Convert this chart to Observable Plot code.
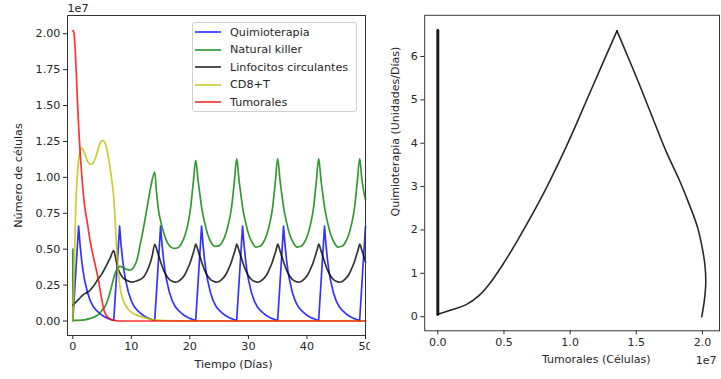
<!DOCTYPE html>
<html><head><meta charset="utf-8">
<script src="https://cdn.jsdelivr.net/npm/d3@7"></script>
<script src="https://cdn.jsdelivr.net/npm/@observablehq/plot@0.6"></script>
<style>
html,body{margin:0;padding:0;background:#fff;}
body{width:721px;height:379px;overflow:hidden;position:relative;font-family:"DejaVu Sans",sans-serif;}
#left{position:absolute;left:0;top:0;}
#right{position:absolute;left:370px;top:0;}
#legend{position:absolute;left:192px;top:22px;width:165px;height:90px;border:1px solid #d0d0d0;border-radius:3px;background:rgba(255,255,255,0.8);box-sizing:border-box;}
.row{position:absolute;left:0;height:14px;display:flex;align-items:center;font-size:11.2px;color:#262626;white-space:nowrap;}
.row svg{margin-left:2px;margin-right:9px;}
</style></head><body>
<div id="left"></div><div id="right"></div><div id="legend"></div>
<script>
// ---- Data (left panel, values in units of 1e7) ----
const nombres = ["Quimioterapia", "Natural killer", "Linfocitos circulantes", "CD8+T", "Tumorales"];
const colores = ["#0000ff", "#008000", "#000000", "#bfbf00", "#ff0000"];
const xTicksIzq = [0, 10, 20, 30, 40, 50];
const yTicksIzq = [0, 0.25, 0.5, 0.75, 1.0, 1.25, 1.5, 1.75, 2.0];
const xTicksDer = [0, 0.5, 1.0, 1.5, 2.0];
const yTicksDer = [0, 1, 2, 3, 4, 5, 6];

const quimio = [
[0,0],[1,0.66],[1.25,0.53],[1.5,0.43],[1.75,0.35],[2,0.29],[2.5,0.2],[3,0.14],[3.5,0.1],[4,0.075],[4.5,0.056],[5,0.04],[5.5,0.028],[6,0.018],[6.5,0.01],[7,0.005],
[8,0.66],[8.25,0.53],[8.5,0.43],[8.75,0.35],[9,0.29],[9.5,0.2],[10,0.14],[10.5,0.1],[11,0.075],[11.5,0.056],[12,0.04],[12.5,0.028],[13,0.018],[13.5,0.01],[14,0.005],
[15,0.66],[15.25,0.53],[15.5,0.43],[15.75,0.35],[16,0.29],[16.5,0.2],[17,0.14],[17.5,0.1],[18,0.075],[18.5,0.056],[19,0.04],[19.5,0.028],[20,0.018],[20.5,0.01],[21,0.005],
[22,0.66],[22.25,0.53],[22.5,0.43],[22.75,0.35],[23,0.29],[23.5,0.2],[24,0.14],[24.5,0.1],[25,0.075],[25.5,0.056],[26,0.04],[26.5,0.028],[27,0.018],[27.5,0.01],[28,0.005],
[29,0.66],[29.25,0.53],[29.5,0.43],[29.75,0.35],[30,0.29],[30.5,0.2],[31,0.14],[31.5,0.1],[32,0.075],[32.5,0.056],[33,0.04],[33.5,0.028],[34,0.018],[34.5,0.01],[35,0.005],
[36,0.66],[36.25,0.53],[36.5,0.43],[36.75,0.35],[37,0.29],[37.5,0.2],[38,0.14],[38.5,0.1],[39,0.075],[39.5,0.056],[40,0.04],[40.5,0.028],[41,0.018],[41.5,0.01],[42,0.005],
[43,0.66],[43.25,0.53],[43.5,0.43],[43.75,0.35],[44,0.29],[44.5,0.2],[45,0.14],[45.5,0.1],[46,0.075],[46.5,0.056],[47,0.04],[47.5,0.028],[48,0.018],[48.5,0.01],[49,0.005],
[50,0.66]
];

const naturalKiller = [
[0,0.5],[0.05,0.005],[1,0.005],[2,0.008],[3,0.018],[4,0.035],[4.5,0.05],[5,0.075],[5.5,0.1],[6,0.15],[6.5,0.22],[7,0.3],[7.5,0.355],[8.1,0.38],[8.6,0.372],[9.3,0.358],[9.9,0.355],[10.5,0.38],[11,0.43],[11.5,0.53],[12,0.63],[12.7,0.79],[13.3,0.93],[14,1.037],
[14.3,0.9],[14.65,0.77],[15.1,0.68],[15.5,0.62],[16,0.56],[16.5,0.525],[17.2,0.505],[18,0.51],[18.5,0.535],[19.2,0.6],[19.7,0.68],[20.1,0.78],[20.6,0.97],[21,1.118],
[21.4,0.98],[21.75,0.87],[22.1,0.77],[22.5,0.69],[23,0.61],[23.6,0.55],[24.3,0.52],[25,0.525],[25.6,0.555],[26.2,0.615],[26.7,0.695],[27.1,0.785],[27.6,0.97],[28,1.13],
[28.4,0.98],[28.75,0.87],[29.1,0.77],[29.5,0.69],[30,0.61],[30.6,0.55],[31.3,0.515],[32,0.52],[32.6,0.55],[33.2,0.61],[33.7,0.69],[34.1,0.78],[34.6,0.97],[35,1.13],
[35.4,0.98],[35.75,0.87],[36.1,0.77],[36.5,0.69],[37,0.61],[37.6,0.55],[38.3,0.515],[39,0.52],[39.6,0.55],[40.2,0.61],[40.7,0.69],[41.1,0.78],[41.6,0.97],[42,1.13],
[42.4,0.98],[42.75,0.87],[43.1,0.77],[43.5,0.69],[44,0.61],[44.6,0.55],[45.3,0.515],[46,0.52],[46.6,0.55],[47.2,0.61],[47.7,0.69],[48.1,0.78],[48.6,0.97],[49,1.13],
[49.4,0.98],[49.75,0.89],[50,0.845]
];

const linfocitos = [
[0,0.11],[0.5,0.13],[1,0.15],[1.7,0.18],[2.7,0.205],[3.5,0.24],[4.3,0.29],[5,0.33],[5.8,0.39],[6.4,0.44],[7,0.49],[7.4,0.42],[7.84,0.353],[8.5,0.305],[9.27,0.282],[10.1,0.271],[11,0.28],[12.1,0.306],[12.6,0.34],[13.2,0.4],[13.6,0.46],[14,0.534],
[14.4,0.49],[14.75,0.445],[15.1,0.4],[15.5,0.355],[16,0.315],[16.5,0.29],[17,0.277],[17.5,0.271],[18,0.275],[18.6,0.295],[19.1,0.32],[19.5,0.353],[20,0.4],[20.4,0.45],[20.8,0.505],[21,0.535],
[21.4,0.49],[21.75,0.445],[22.1,0.4],[22.5,0.355],[23,0.315],[23.5,0.29],[24,0.277],[24.5,0.271],[25,0.275],[25.6,0.295],[26.1,0.32],[26.5,0.353],[27,0.4],[27.4,0.45],[27.8,0.505],[28,0.535],
[28.4,0.49],[28.75,0.445],[29.1,0.4],[29.5,0.355],[30,0.315],[30.5,0.29],[31,0.277],[31.5,0.271],[32,0.275],[32.6,0.295],[33.1,0.32],[33.5,0.353],[34,0.4],[34.4,0.45],[34.8,0.505],[35,0.535],
[35.4,0.49],[35.75,0.445],[36.1,0.4],[36.5,0.355],[37,0.315],[37.5,0.29],[38,0.277],[38.5,0.271],[39,0.275],[39.6,0.295],[40.1,0.32],[40.5,0.353],[41,0.4],[41.4,0.45],[41.8,0.505],[42,0.535],
[42.4,0.49],[42.75,0.445],[43.1,0.4],[43.5,0.355],[44,0.315],[44.5,0.29],[45,0.277],[45.5,0.271],[46,0.275],[46.6,0.295],[47.1,0.32],[47.5,0.353],[48,0.4],[48.4,0.45],[48.8,0.505],[49,0.535],
[49.4,0.49],[49.75,0.445],[50,0.41]
];

const cd8 = [
[0,0],[0.15,0.15],[0.3,0.45],[0.5,0.78],[0.75,1.0],[1.0,1.12],[1.5,1.205],[2.0,1.17],[2.5,1.115],[3.0,1.09],[3.5,1.1],[4.0,1.15],[4.5,1.22],[5.1,1.257],[5.5,1.24],[6.0,1.16],[6.4,1.06],[6.7,0.97],[7.0,0.86],[7.25,0.69],[7.5,0.5],[7.8,0.33],[8.1,0.23],[8.4,0.17],[8.8,0.125],[9.2,0.097],[9.6,0.075],[10.5,0.048],[11.9,0.028],[13,0.015],[14,0.008],[16,0.002],[20,0],[50,0]
];

const tumorales = [
[0,2.02],[0.12,2.02],[0.25,1.99],[0.4,1.9],[0.6,1.73],[0.8,1.53],[1.0,1.355],[1.3,1.15],[1.6,0.98],[2.0,0.81],[2.5,0.68],[3.0,0.55],[3.5,0.45],[4.0,0.36],[4.4,0.285],[4.7,0.21],[5.0,0.14],[5.3,0.08],[5.6,0.048],[6.0,0.025],[6.5,0.012],[7,0.004],[8,0],[50,0]
];

// ---- Data (right panel: tumor cells in 1e7, chemotherapy in units/day) ----
const faseTumor  = [1.995,2.015,2.025,2.02,2.002,1.963,1.90,1.826,1.727,1.627,1.528,1.441,1.354,1.155,0.981,0.808,0.609,0.484,0.385,0.311,0.211,0.112,0.0];
const faseQuimio = [0.0,0.395,0.773,1.152,1.53,2.06,2.59,3.145,3.80,4.56,5.32,5.96,6.59,5.205,3.99,2.895,1.795,1.168,0.735,0.485,0.273,0.167,0.054];
const cicloTumor  = [0.0, 0.0];
const cicloQuimio = [0.05, 6.6];

const seriesIzq = [quimio, naturalKiller, linfocitos, cd8, tumorales];
const curvas = ["linear", "monotone-x", "monotone-x", "monotone-x", "monotone-x"];

const estilo = {fontFamily: '"DejaVu Sans", sans-serif', fontSize: "11.2px", color: "#262626", background: "white", overflow: "visible"};
const lbl = {textAnchor: "middle", lineAnchor: "middle"};

const left = Plot.plot({
  width: 370, height: 379,
  marginLeft: 67, marginRight: 5, marginTop: 15, marginBottom: 44,
  style: estilo,
  x: {domain: [-0.9, 50]},
  y: {domain: [-0.101, 2.127]},
  marks: [
    ...seriesIzq.map((s, i) => Plot.line(s, {x: d => d[0], y: d => d[1], stroke: colores[i], strokeWidth: 1.7, strokeOpacity: 0.8, curve: curvas[i]})),
    Plot.frame({stroke: "#333", strokeWidth: 1}),
    Plot.axisX({ticks: xTicksIzq, tickSize: 4, tickPadding: 3, label: null, tickFormat: d3.format("d")}),
    Plot.axisY({ticks: yTicksIzq, tickSize: 4, tickPadding: 3, label: null, tickFormat: d3.format(".2f")}),
    Plot.text(["Tiempo (Días)"], {...lbl, frameAnchor: "bottom", dx: 17, dy: 29}),
    Plot.text(["Número de células"], {...lbl, frameAnchor: "left", rotate: -90, dx: -49}),
    Plot.text(["1e7"], {frameAnchor: "top-left", textAnchor: "start", lineAnchor: "middle", dy: -7})
  ]
});
document.getElementById("left").append(left);

const fase = faseTumor.map((t, i) => [t, faseQuimio[i]]);
const iPico = faseQuimio.indexOf(d3.max(faseQuimio));
const ciclo = cicloTumor.map((t, i) => [t, cicloQuimio[i]]);

const right = Plot.plot({
  width: 356, height: 379,
  marginLeft: 55, marginRight: 2, marginTop: 15, marginBottom: 44,
  style: estilo,
  x: {domain: [-0.099, 2.129]},
  y: {domain: [-0.325, 6.95]},
  marks: [
    Plot.line(ciclo, {x: d => d[0], y: d => d[1], stroke: "black", strokeWidth: 3, strokeOpacity: 0.9}),
    Plot.line(fase.slice(0, iPico + 1), {x: d => d[0], y: d => d[1], stroke: "black", strokeWidth: 1.6, strokeOpacity: 0.85, curve: "catmull-rom"}),
    Plot.line(fase.slice(iPico), {x: d => d[0], y: d => d[1], stroke: "black", strokeWidth: 1.6, strokeOpacity: 0.85, curve: "catmull-rom"}),
    Plot.frame({stroke: "#333", strokeWidth: 1}),
    Plot.axisX({ticks: xTicksDer, tickSize: 4, tickPadding: 3, label: null, tickFormat: d3.format(".1f")}),
    Plot.axisY({ticks: yTicksDer, tickSize: 4, tickPadding: 3, label: null, tickFormat: d3.format("d")}),
    Plot.text(["Tumorales (Células)"], {...lbl, frameAnchor: "bottom", dx: 24.5, dy: 29}),
    Plot.text(["Quimioterapia (Unidades/Días)"], {...lbl, frameAnchor: "left", rotate: -90, dx: -30, dy: -42}),
    Plot.text(["1e7"], {frameAnchor: "bottom-right", textAnchor: "end", lineAnchor: "middle", dx: -3, dy: 30})
  ]
});
document.getElementById("right").append(right);

// Legend
const leg = document.getElementById("legend");
const filas = [9, 26.7, 44, 61.7, 79];
nombres.forEach((n, i) => {
  const row = document.createElement("div");
  row.className = "row";
  row.style.top = (filas[i] - 7) + "px";
  row.innerHTML = `<svg width="26" height="14"><line x1="0" x2="26" y1="7" y2="7" stroke="${colores[i]}" stroke-opacity="0.8" stroke-width="1.7"/></svg><span>${n}</span>`;
  leg.append(row);
});
</script></body></html>
